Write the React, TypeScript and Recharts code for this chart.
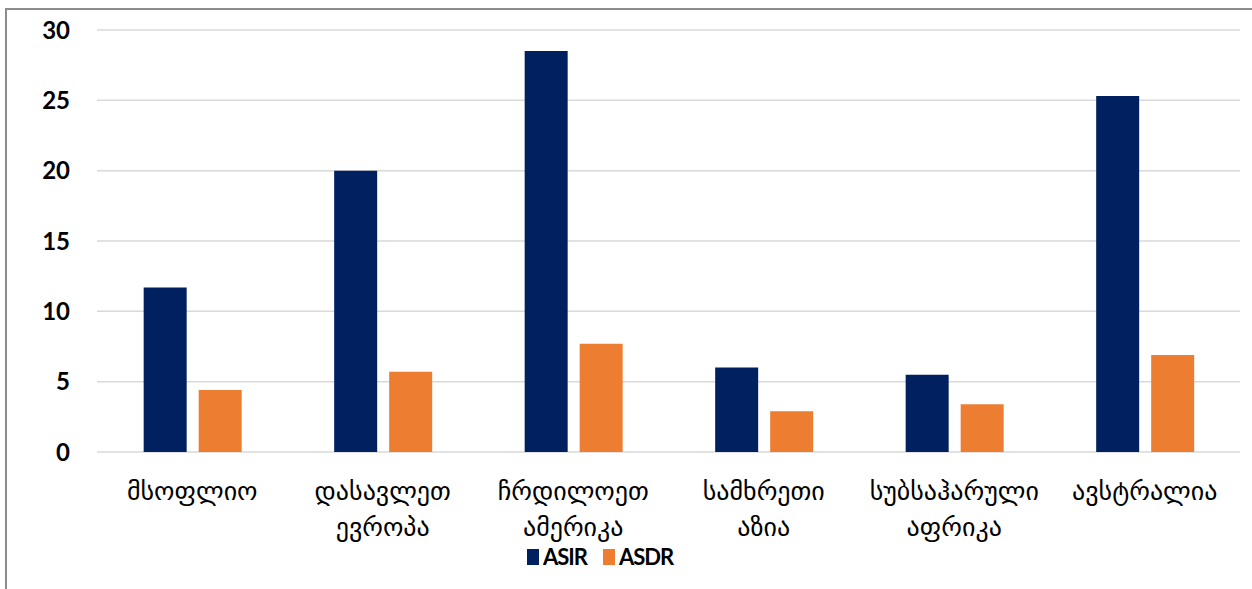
import React from "react";
import { BarChart, Bar, XAxis, YAxis, CartesianGrid, Legend } from "recharts";

const regions = [
  "მსოფლიო",
  "დასავლეთ ევროპა",
  "ჩრდილოეთ ამერიკა",
  "სამხრეთი აზია",
  "სუბსაჰარული აფრიკა",
  "ავსტრალია",
];
const asir = [11.7, 20.0, 28.5, 6.0, 5.5, 25.3];
const asdr = [4.4, 5.7, 7.7, 2.9, 3.4, 6.9];
const yTicks = [0, 5, 10, 15, 20, 25, 30];
const seriesOrder = ["ASIR", "ASDR"];

const data = regions.map((name, i) => ({ name, ASIR: asir[i], ASDR: asdr[i] }));

const CategoryTick = (props: any) => {
  const { x, y, payload } = props;
  const words = String(payload.value).split(" ");
  return (
    <text
      x={x}
      y={y}
      textAnchor="middle"
      fill="#000"
      style={{ fontFamily: "'DejaVu Sans', sans-serif", fontSize: 26 }}
    >
      {words.map((w, i) => (
        <tspan key={i} x={x} dy={i === 0 ? 48 : 36}>
          {w}
        </tspan>
      ))}
    </text>
  );
};

const LegendBox = (props: any) => {
  const items = [...(props.payload || [])].sort(
    (a: any, b: any) => seriesOrder.indexOf(a.value) - seriesOrder.indexOf(b.value)
  );
  return (
    <div style={{ display: "flex", alignItems: "center" }}>
      {items.map((it: any) => (
        <div key={it.value} style={{ display: "flex", alignItems: "center", marginRight: 16 }}>
          <span style={{ width: 12, height: 16, background: it.color, display: "inline-block", marginRight: 4 }} />
          <span
            style={{
              fontFamily: "Lato, sans-serif",
              fontWeight: 700,
              fontSize: 22,
              letterSpacing: -1,
              color: "#000",
            }}
          >
            {it.value}
          </span>
        </div>
      ))}
    </div>
  );
};

export default function App() {
  return (
    <div style={{ position: "fixed", left: 0, top: 0, width: 1252, height: 589, background: "#fff" }}>
      <div
        style={{
          position: "absolute",
          left: 5,
          top: 8,
          right: 0,
          bottom: 0,
          borderLeft: "2px solid #8c8c8c",
          borderTop: "2px solid #8c8c8c",
        }}
      />
      <BarChart
        width={1252}
        height={589}
        data={data}
        margin={{ top: 30, right: 12, bottom: 0, left: 0 }}
        barCategoryGap="24.5%"
        barGap={12}
      >
        <CartesianGrid vertical={false} stroke="#d9d9d9" strokeWidth={1.5} />
        <XAxis
          dataKey="name"
          axisLine={false}
          tickLine={false}
          tickSize={0}
          tickMargin={0}
          height={137}
          interval={0}
          tick={<CategoryTick />}
        />
        <YAxis
          width={97}
          domain={[0, 30]}
          ticks={yTicks}
          axisLine={false}
          tickLine={false}
          tickSize={0}
          tickMargin={27}
          tick={{ fill: "#000", fontFamily: "Lato, sans-serif", fontWeight: 700, fontSize: 24 }}
        />
        <Legend
          content={<LegendBox />}
          wrapperStyle={{ position: "absolute", left: 527, top: 543, width: "auto", height: 0, overflow: "visible" }}
        />
        <Bar dataKey="ASIR" fill="#002060" isAnimationActive={false} />
        <Bar dataKey="ASDR" fill="#ED7D31" isAnimationActive={false} />
      </BarChart>
    </div>
  );
}
